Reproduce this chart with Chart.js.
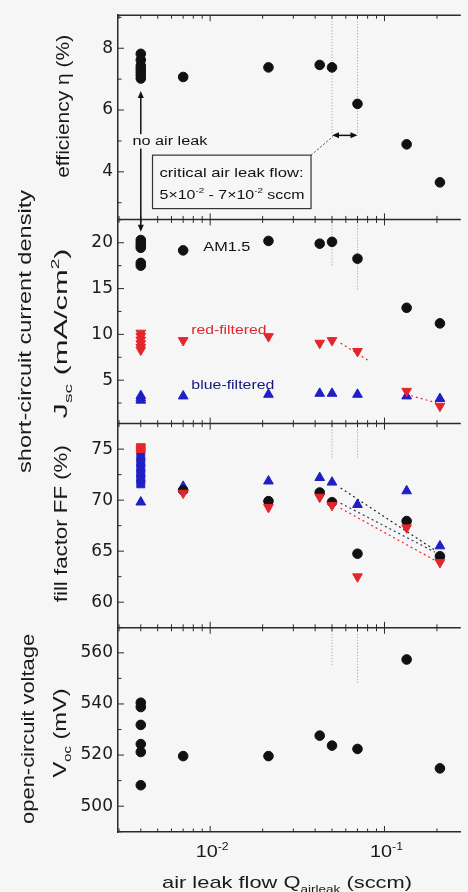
<!DOCTYPE html>
<html lang="en">
<head>
<meta charset="UTF-8">
<title>Solar cell parameters vs. air leak flow</title>
<script src="https://cdn.jsdelivr.net/npm/chart.js"></script>
<style>
  html, body { margin: 0; padding: 0; background: #f6f6f6; }
  #wrap { width: 468px; height: 892px; }
</style>
</head>
<body>
<div id="wrap"><canvas id="leakChart" width="468" height="892"></canvas></div>
<script>
// flow positions (sccm); the no-leak reference cells are plotted at the far left
const noLeakFlow = 0.004;
const leakFlows = [0.007, 0.0216, 0.0425, 0.05, 0.07, 0.134, 0.208];
const criticalFlows = [0.05, 0.07];

// efficiency (%)
const effNoLeak = [7.82, 7.62, 7.43, 7.33, 7.23, 7.13, 7.02];
const effLeak = [7.07, 7.38, 7.46, 7.38, 6.2, 4.89, 3.66];

// short-circuit current density (mA/cm2)
const jscNoLeak = [20.3, 20.0, 19.7, 19.45, 17.8, 17.5];
const jscLeak = [19.17, 20.2, 19.9, 20.1, 18.26, 12.9, 11.2];
const jscRedNoLeak = [10.15, 9.8, 9.4, 9.0, 8.6, 8.3];
const jscRedLeak = [9.34, 9.77, 9.05, 9.34, 8.15, 3.8, 2.17];
const jscBlueNoLeak = [3.3, 3.05, 2.8];
const jscBlueLeak = [3.26, 3.44, 3.55, 3.55, 3.44, 3.26, 2.98];
const jscRedTrendFlows = [0.056, 0.08, 0.1, 0.142, 0.198];
const jscRedTrend = [9.05, 7.2, null, 3.3, 2.54];

// fill factor (%)
const ffRedNoLeak = [75.1];
const ffBlueNoLeak = [74.25, 73.7, 73.1, 72.6, 72.1, 71.6, 69.8];
const ffLeak = [70.95, 69.9, 70.75, 69.8, 64.75, 67.95, 64.5];
const ffRedLeak = [70.7, 69.3, 70.3, 69.5, 62.5, 67.3, 63.9];
const ffBlueLeak = [71.34, 71.86, 72.2, 71.75, 69.56, 70.9, 65.5];
const ffTrendFlows = [0.056, 0.195];
const ffTrendAM = [71.2, 65.1];
const ffTrendBlue = [69.7, 64.9];
const ffTrendRed = [69.2, 64.1];

// open-circuit voltage (mV)
const vocNoLeak = [540.5, 538.8, 531.8, 524.3, 521.2, 508.2];
const vocLeak = [519.6, 519.6, 527.6, 523.7, 522.4, 557.4, 514.8];

// tick labels
const effTicks = [4, 6, 8];
const jscTicks = [5, 10, 15, 20];
const ffTicks = [60, 65, 70, 75];
const vocTicks = [500, 520, 540, 560];
const flowTicks = [0.01, 0.1];
const flowTickLabels = [['10', '-2'], ['10', '-1']];

const INK = '#111111';
const AXIS = '#2b2b2b';
const RED = '#e4262c';
const BLUE = '#1f1fc4';
const NAVY = '#16167a';
const BG = '#f6f6f6';
const TEXT_FONT = '"Liberation Sans", Arial, sans-serif';
const TICK_FONT = '"DejaVu Sans", sans-serif';

const at = (x, ys) => ys.map(y => ({ x, y }));
const pairs = (xs, ys) => xs.map((x, i) => ({ x, y: ys[i] }));

function marks(yAxisID, data, color, style, r, extra) {
    return Object.assign({
        yAxisID, data,
        pointStyle: style,
        pointRadius: r,
        pointHoverRadius: r,
        pointBackgroundColor: color,
        pointBorderColor: color,
        pointBorderWidth: 1
    }, extra || {});
}

function trend(yAxisID, data, color) {
    return {
        yAxisID, data,
        showLine: true,
        pointRadius: 0,
        borderColor: color,
        borderWidth: 1.2,
        borderDash: [2, 3]
    };
}

// text with sub/superscripts, optionally stretched to a given length
function drawRich(ctx, parts, x, y, o) {
    const size = o.size, fam = o.family || TEXT_FONT;
    const items = parts.map(p => {
        const fs = (p.sup || p.sub) ? size * 0.62 : size;
        ctx.font = fs + 'px ' + fam;
        return { p, fs, w: ctx.measureText(p.t).width };
    });
    const natural = items.reduce((a, b) => a + b.w, 0);
    const st = o.length ? o.length / natural : (o.stretch || 1);
    const total = natural * st;
    ctx.save();
    ctx.translate(x, y);
    if (o.rotate) ctx.rotate(-Math.PI / 2);
    ctx.textBaseline = 'alphabetic';
    ctx.textAlign = 'left';
    let cx = o.align === 'left' ? 0 : -total / 2;
    const base = o.middle ? size * 0.36 : 0;
    if (o.bg) {
        ctx.fillStyle = o.bg;
        ctx.fillRect(cx - 2, base - size * 0.85, total + 4, size * 1.15);
    }
    ctx.fillStyle = o.color || INK;
    items.forEach(it => {
        const dy = it.p.sup ? -size * 0.42 : it.p.sub ? size * 0.28 : 0;
        ctx.save();
        ctx.translate(cx, base + dy);
        ctx.scale(st, 1);
        ctx.font = it.fs + 'px ' + fam;
        ctx.fillText(it.p.t, 0, 0);
        ctx.restore();
        cx += it.w * st;
    });
    ctx.restore();
}

function arrowHead(ctx, x, y, dx, dy) {
    // tip at (x, y), pointing along (dx, dy)
    const len = 7, half = 3;
    ctx.beginPath();
    ctx.moveTo(x, y);
    ctx.lineTo(x - dx * len - dy * half, y - dy * len + dx * half);
    ctx.lineTo(x - dx * len + dy * half, y - dy * len - dx * half);
    ctx.closePath();
    ctx.fill();
}

const panelIds = ['yEff', 'yJsc', 'yFF', 'yVoc'];
const panelTicks = [effTicks, jscTicks, ffTicks, vocTicks];
// where the dotted critical-flow guides stop in each panel (data units)
const guideEnds = [[5.18, 5.18], [17.4, 14.8], [74, 74], [554.8, 548.2]];

const titles = [
    { id: 'yEff', x: 62, dy: -11, length: 143, parts: [{ t: 'efficiency η (%)' }] },
    { id: 'yJsc', x: 24, dy: 10, length: 283, parts: [{ t: 'short-circuit current density' }] },
    { id: 'yJsc', x: 60, dy: 12, length: 170, parts: [{ t: 'J' }, { t: 'sc', sub: true }, { t: ' (mA/cm' }, { t: '2', sup: true }, { t: ')' }] },
    { id: 'yFF', x: 60, dy: -2, length: 157, parts: [{ t: 'fill factor FF (%)' }] },
    { id: 'yVoc', x: 27, dy: -1, length: 190, parts: [{ t: 'open-circuit voltage' }] },
    { id: 'yVoc', x: 59, dy: 3, length: 89, parts: [{ t: 'V' }, { t: 'oc', sub: true }, { t: ' (mV)' }] }
];

const decor = {
    id: 'decor',
    beforeDatasetsDraw(chart) {
        const ctx = chart.ctx, x = chart.scales.x;
        const panels = panelIds.map(id => chart.scales[id]);
        ctx.save();

        // dotted guides at the critical flows
        ctx.strokeStyle = '#9a9a9a';
        ctx.lineWidth = 1;
        ctx.setLineDash([1, 2]);
        panels.forEach((s, i) => {
            criticalFlows.forEach((f, j) => {
                const px = x.getPixelForValue(f);
                ctx.beginPath();
                ctx.moveTo(px, s.top);
                ctx.lineTo(px, s.getPixelForValue(guideEnds[i][j]));
                ctx.stroke();
            });
        });
        ctx.setLineDash([]);

        // panel separators
        ctx.strokeStyle = AXIS;
        ctx.lineWidth = 1.5;
        panels.forEach(s => {
            ctx.beginPath();
            ctx.moveTo(x.left, s.top);
            ctx.lineTo(x.right, s.top);
            ctx.stroke();
        });

        // inward log ticks on every horizontal boundary
        const bounds = panels.map(s => s.top).concat([x.top]);
        ctx.lineWidth = 1;
        for (let e = -3; e <= -1; e++) {
            for (let k = 1; k <= 9; k++) {
                const v = k * Math.pow(10, e);
                if (v < x.min || v > x.max) continue;
                const px = x.getPixelForValue(v), len = k === 1 ? 6 : 3.5;
                bounds.forEach((b, i) => {
                    const up = i === 0 ? 0 : len, down = i === bounds.length - 1 ? 0 : len;
                    ctx.beginPath();
                    ctx.moveTo(px, b - up);
                    ctx.lineTo(px, b + down);
                    ctx.stroke();
                });
            }
        }

        // inward y ticks, minor ones halfway
        panels.forEach((s, i) => {
            const major = panelTicks[i], step = major[1] - major[0];
            for (let n = -4; n <= major.length * 2 + 2; n++) {
                const v = major[0] + n * step / 2;
                if (v <= s.min || v >= s.max) continue;
                const py = s.getPixelForValue(v), len = n % 2 === 0 ? 6 : 3.5;
                ctx.beginPath();
                ctx.moveTo(s.right, py);
                ctx.lineTo(s.right + len, py);
                ctx.stroke();
            }
        });
        ctx.restore();
    },
    afterDatasetsDraw(chart) {
        const ctx = chart.ctx, x = chart.scales.x;
        const yEff = chart.scales.yEff, yJsc = chart.scales.yJsc;
        ctx.save();

        // "no air leak" double arrow
        const ax = x.getPixelForValue(noLeakFlow);
        const aTop = yEff.getPixelForValue(6.62), aBot = yJsc.getPixelForValue(21.2);
        ctx.strokeStyle = INK;
        ctx.fillStyle = INK;
        ctx.lineWidth = 1.5;
        ctx.beginPath();
        ctx.moveTo(ax, aTop + 5);
        ctx.lineTo(ax, aBot - 5);
        ctx.stroke();
        arrowHead(ctx, ax, aTop, 0, -1);
        arrowHead(ctx, ax, aBot, 0, 1);
        drawRich(ctx, [{ t: 'no air leak' }], x.getPixelForValue(0.00358), yEff.getPixelForValue(5.02),
            { size: 12.5, length: 75, align: 'left', middle: true, bg: BG });

        // critical flow box
        const bl = x.getPixelForValue(0.00467), br = x.getPixelForValue(0.0379);
        const bt = yEff.getPixelForValue(4.54), bb = yEff.getPixelForValue(2.81);
        ctx.fillStyle = BG;
        ctx.fillRect(bl, bt, br - bl, bb - bt);
        ctx.strokeStyle = '#333';
        ctx.lineWidth = 1.2;
        ctx.strokeRect(bl, bt, br - bl, bb - bt);
        drawRich(ctx, [{ t: 'critical air leak flow:' }], bl + 7, bt + 17,
            { size: 13, length: 144, align: 'left', middle: true });
        drawRich(ctx, [{ t: '5×10' }, { t: '-2', sup: true }, { t: ' - 7×10' }, { t: '-2', sup: true }, { t: ' sccm' }],
            bl + 7, bt + 39, { size: 13, length: 145, align: 'left', middle: true });

        // leader and range arrow
        const c0 = x.getPixelForValue(criticalFlows[0]), c1 = x.getPixelForValue(criticalFlows[1]);
        const cy = yEff.getPixelForValue(5.18);
        ctx.strokeStyle = '#444';
        ctx.lineWidth = 1;
        ctx.setLineDash([2, 2]);
        ctx.beginPath();
        ctx.moveTo(br, bt);
        ctx.lineTo(c0 + 1, cy + 1);
        ctx.stroke();
        ctx.setLineDash([]);
        ctx.strokeStyle = INK;
        ctx.fillStyle = INK;
        ctx.lineWidth = 1.5;
        ctx.beginPath();
        ctx.moveTo(c0 + 4, cy);
        ctx.lineTo(c1 - 4, cy);
        ctx.stroke();
        arrowHead(ctx, c0, cy, -1, 0);
        arrowHead(ctx, c1, cy, 1, 0);

        // series labels in the Jsc panel
        drawRich(ctx, [{ t: 'AM1.5' }], x.getPixelForValue(0.00914), yJsc.getPixelForValue(19.57),
            { size: 12.5, length: 47, align: 'left', middle: true });
        drawRich(ctx, [{ t: 'red-filtered' }], x.getPixelForValue(0.0078), yJsc.getPixelForValue(10.56),
            { size: 12.5, length: 75, align: 'left', middle: true, color: RED });
        drawRich(ctx, [{ t: 'blue-filtered' }], x.getPixelForValue(0.0078), yJsc.getPixelForValue(4.52),
            { size: 12.5, length: 83, align: 'left', middle: true, color: NAVY });

        // axis titles
        titles.forEach(t => {
            const s = chart.scales[t.id];
            drawRich(ctx, t.parts, t.x, (s.top + s.bottom) / 2 + t.dy,
                { size: 19, length: t.length, rotate: true, middle: true, color: '#1a1a1a' });
        });

        // x tick labels and title
        flowTicks.forEach((v, i) => {
            const lab = flowTickLabels[i];
            drawRich(ctx, [{ t: lab[0] }, { t: lab[1], sup: true }], x.getPixelForValue(v) + 2, x.top + 25,
                { size: 17, length: 33, color: '#1a1a1a' });
        });
        drawRich(ctx, [{ t: 'air leak flow Q' }, { t: 'airleak', sub: true }, { t: ' (sccm)' }], 287, 888,
            { size: 17, length: 250, color: '#1a1a1a' });
        ctx.restore();
    }
};

function panelAxis(min, max, ticks, weight) {
    return {
        type: 'linear',
        position: 'left',
        stack: 'panels',
        stackWeight: 1,
        weight: weight,
        offset: false,
        min: min,
        max: max,
        grid: { display: false, drawTicks: false },
        border: { display: true, color: AXIS, width: 1.5 },
        ticks: { font: { family: TICK_FONT, size: 17 }, color: '#1a1a1a', padding: 5 },
        afterBuildTicks: s => { s.ticks = ticks.map(v => ({ value: v })); },
        afterFit: s => { s.width = 118; }
    };
}

const ffBlueStyles = ffBlueNoLeak.map((v, i) => i < ffBlueNoLeak.length - 1 ? 'rect' : 'triangle')
    .concat(ffBlueLeak.map(() => 'triangle'));

const datasets = [
    marks('yEff', at(noLeakFlow, effNoLeak).concat(pairs(leakFlows, effLeak)), INK, 'circle', 4.8),

    marks('yJsc', at(noLeakFlow, jscRedNoLeak).concat(pairs(leakFlows, jscRedLeak)), RED, 'triangle', 5.6, { pointRotation: 180 }),
    marks('yJsc', at(noLeakFlow, jscNoLeak).concat(pairs(leakFlows, jscLeak)), INK, 'circle', 4.8),
    marks('yJsc', at(noLeakFlow, jscBlueNoLeak).concat(pairs(leakFlows, jscBlueLeak)), BLUE, 'triangle', 5.6),

    marks('yFF', at(noLeakFlow, ffRedNoLeak), RED, 'rect', 6.2),
    marks('yFF', pairs(leakFlows, ffRedLeak), RED, 'triangle', 5.6, { pointRotation: 180 }),
    marks('yFF', pairs(leakFlows, ffLeak), INK, 'circle', 4.8),
    marks('yFF', at(noLeakFlow, ffBlueNoLeak).concat(pairs(leakFlows, ffBlueLeak)), BLUE, ffBlueStyles, 5.6),

    marks('yVoc', at(noLeakFlow, vocNoLeak).concat(pairs(leakFlows, vocLeak)), INK, 'circle', 4.8),

    trend('yJsc', pairs(jscRedTrendFlows, jscRedTrend), RED),
    trend('yFF', pairs(ffTrendFlows, ffTrendAM), '#222'),
    trend('yFF', pairs(ffTrendFlows, ffTrendBlue), '#33336a'),
    trend('yFF', pairs(ffTrendFlows, ffTrendRed), RED)
];

new Chart(document.getElementById('leakChart'), {
    type: 'scatter',
    data: { datasets: datasets },
    options: {
        responsive: false,
        animation: false,
        layout: { padding: { top: 10, right: 0, bottom: 0, left: 0 } },
        plugins: { legend: { display: false }, tooltip: { enabled: false } },
        scales: {
            x: {
                type: 'logarithmic',
                position: 'bottom',
                min: 0.00296,
                max: 0.274,
                grid: { display: false, drawTicks: false },
                border: { display: true, color: AXIS, width: 1.5 },
                ticks: { display: false },
                afterFit: s => { s.height = 60; }
            },
            yEff: panelAxis(2.46, 9.07, effTicks, 4),
            yJsc: panelAxis(0.26, 22.55, jscTicks, 3),
            yFF: panelAxis(57.49, 77.5, ffTicks, 2),
            yVoc: panelAxis(489.9, 569.8, vocTicks, 1)
        }
    },
    plugins: [decor]
});
</script>
</body>
</html>
